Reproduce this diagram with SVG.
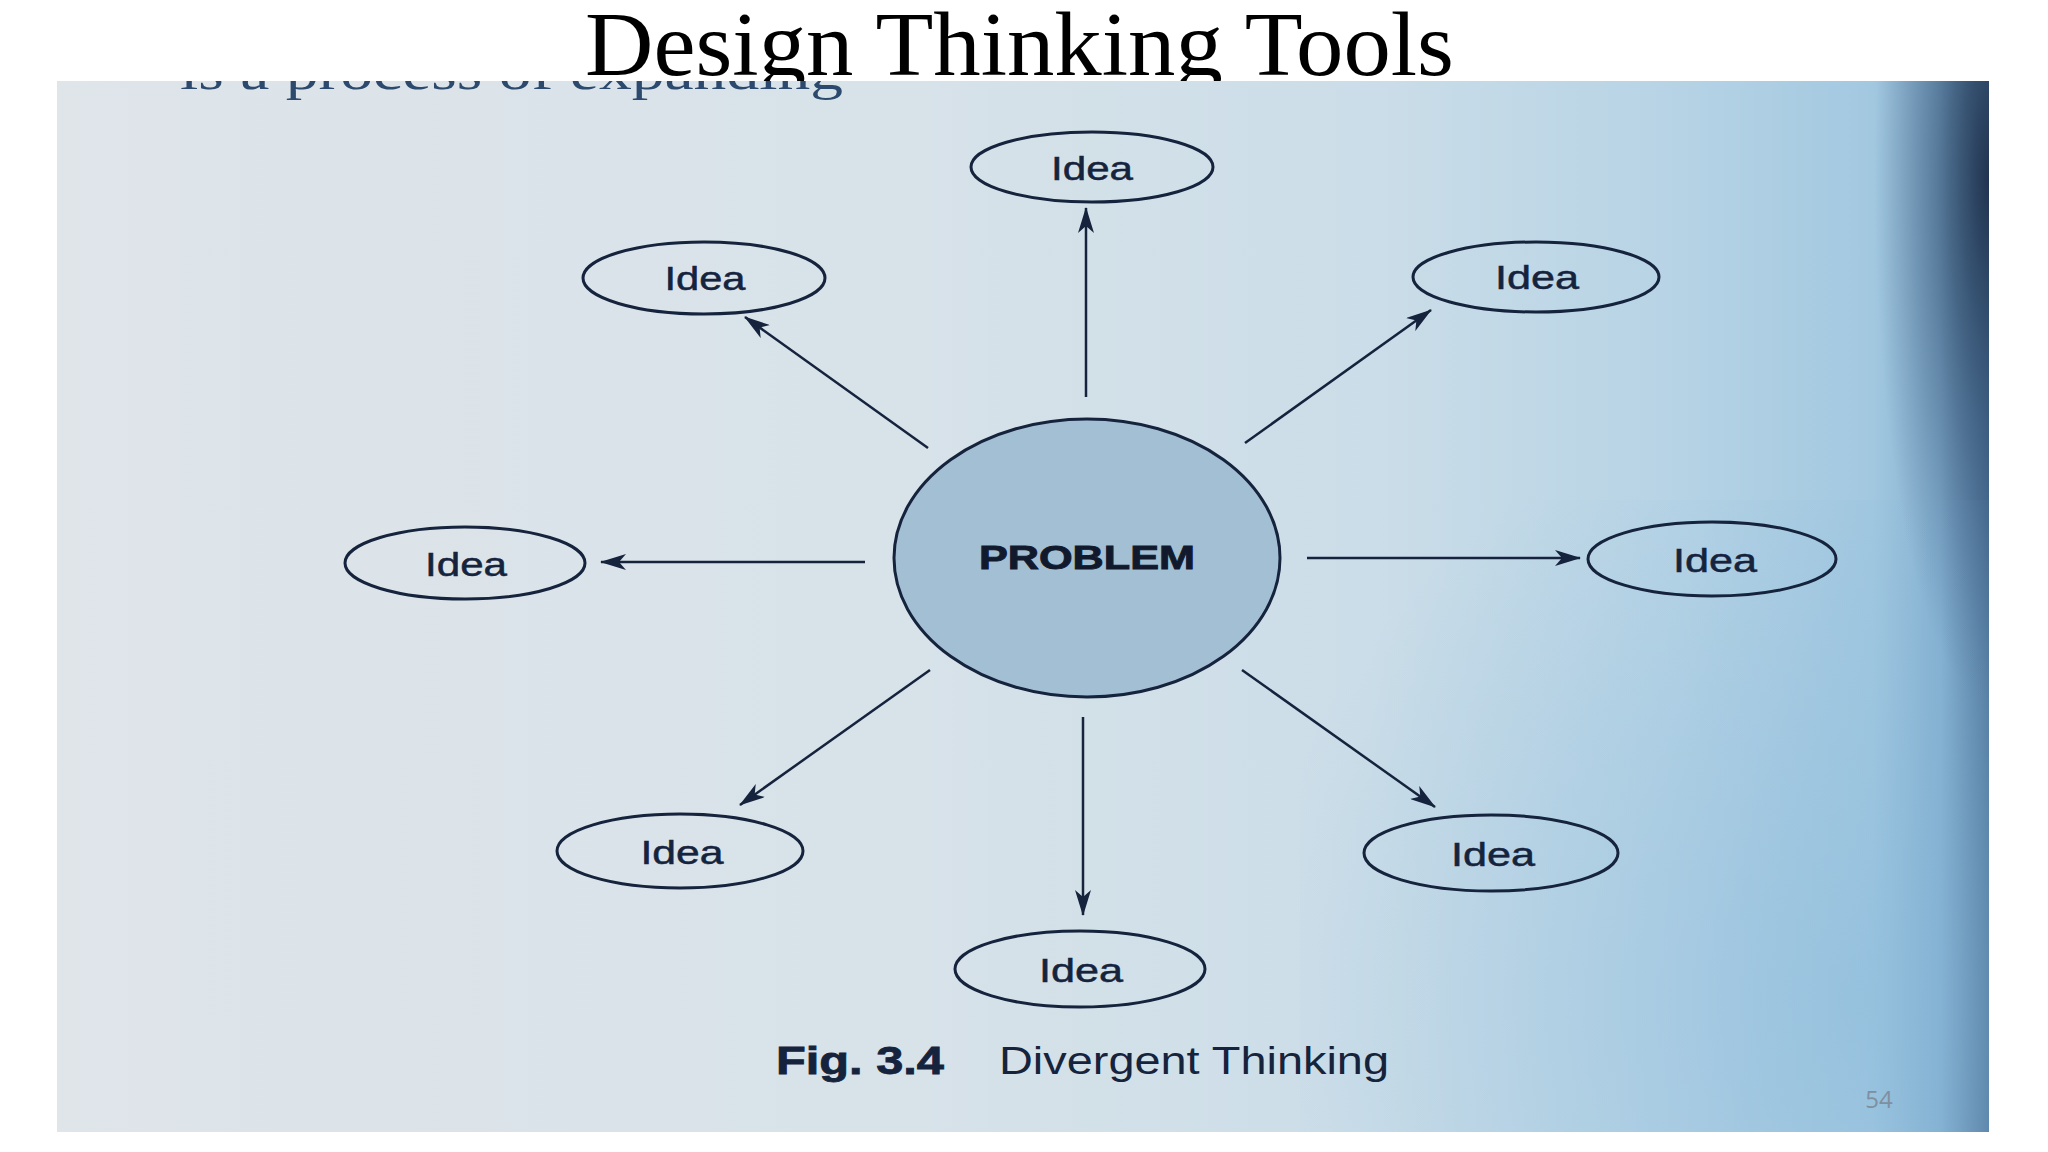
<svg xmlns="http://www.w3.org/2000/svg" width="2048" height="1152" viewBox="0 0 2048 1152">
  <defs>
    <linearGradient id="paper" x1="0" y1="0" x2="1" y2="0">
      <stop offset="0" stop-color="#dfe5e9"/>
      <stop offset="0.45" stop-color="#d7e2e9"/>
      <stop offset="0.68" stop-color="#cbdde8"/>
      <stop offset="0.84" stop-color="#b6d3e5"/>
      <stop offset="0.94" stop-color="#a2c8e0"/>
      <stop offset="0.975" stop-color="#84afcf"/>
      <stop offset="1" stop-color="#4d7398"/>
    </linearGradient>
    <radialGradient id="corner" gradientUnits="userSpaceOnUse" cx="1989" cy="180" r="520" gradientTransform="translate(1989 180) scale(0.22 1) translate(-1989 -180)">
      <stop offset="0" stop-color="#1c2d47" stop-opacity="0.9"/>
      <stop offset="0.5" stop-color="#2a4566" stop-opacity="0.45"/>
      <stop offset="1" stop-color="#3a5a80" stop-opacity="0"/>
    </radialGradient>
    <radialGradient id="lowblue" gradientUnits="userSpaceOnUse" cx="1850" cy="1000" r="600">
      <stop offset="0" stop-color="#86b8db" stop-opacity="0.45"/>
      <stop offset="1" stop-color="#86b8db" stop-opacity="0"/>
    </radialGradient>
    <clipPath id="photoClip">
      <rect x="57" y="81" width="1932" height="1051"/>
    </clipPath>
    <marker id="arrow" viewBox="0 0 26 16" refX="25" refY="8" markerWidth="26" markerHeight="16" markerUnits="userSpaceOnUse" orient="auto">
      <path d="M26,8 L0,0 L7,8 L0,16 Z" fill="#15233d"/>
    </marker>
    <style>
      .ink { stroke: #15233d; stroke-width: 3; fill: none; }
      .conn { stroke: #15233d; stroke-width: 2.5; fill: none; marker-end: url(#arrow); }
      .idea { font-family: "Liberation Sans", Arial, sans-serif; font-size: 33px; fill: #15233d; stroke: #15233d; stroke-width: 0.5; text-anchor: middle; }
      .prob { font-family: "Liberation Sans", Arial, sans-serif; font-weight: bold; font-size: 33px; fill: #111a2c; stroke: #111a2c; stroke-width: 0.9; text-anchor: middle; }
    </style>
  </defs>

  <rect x="0" y="0" width="2048" height="1152" fill="#ffffff"/>

  <text id="title" x="1019.5" y="75" font-family="'Liberation Serif', 'Times New Roman', serif" font-size="90" fill="#000000" text-anchor="middle" textLength="869" lengthAdjust="spacingAndGlyphs">Design Thinking Tools</text>

  <g id="photo">
    <rect x="57" y="81" width="1932" height="1051" fill="url(#paper)"/>
    <rect x="1300" y="500" width="689" height="632" fill="url(#lowblue)"/>
    <rect x="1800" y="81" width="189" height="1051" fill="url(#corner)"/>
    <g clip-path="url(#photoClip)">
      <text x="180" y="89" font-family="'Liberation Serif', 'Times New Roman', serif" font-size="50" fill="#2b4a6e" textLength="663" lengthAdjust="spacingAndGlyphs">is a process of expanding</text>
    </g>
  </g>

  <g id="connectors">
    <line class="conn" x1="1086" y1="397" x2="1086" y2="208"/>
    <line class="conn" x1="928" y1="448" x2="745" y2="317"/>
    <line class="conn" x1="1245" y1="443" x2="1431" y2="310"/>
    <line class="conn" x1="865" y1="562" x2="601" y2="562"/>
    <line class="conn" x1="1307" y1="558" x2="1580" y2="558"/>
    <line class="conn" x1="930" y1="670" x2="740" y2="805"/>
    <line class="conn" x1="1083" y1="717" x2="1083" y2="915"/>
    <line class="conn" x1="1242" y1="670" x2="1435" y2="807"/>
  </g>

  <g id="problem">
    <ellipse cx="1087" cy="558" rx="193" ry="139" fill="#a3bfd3" stroke="#15233d" stroke-width="3"/>
    <text class="prob" x="1087" y="569" textLength="216" lengthAdjust="spacingAndGlyphs">PROBLEM</text>
  </g>

  <g id="idea-top">
    <ellipse class="ink" cx="1092" cy="167" rx="121" ry="35"/>
    <text class="idea" x="1092" y="180" textLength="82" lengthAdjust="spacingAndGlyphs">Idea</text>
  </g>
  <g id="idea-upper-left">
    <ellipse class="ink" cx="704" cy="278" rx="121" ry="36"/>
    <text class="idea" x="705" y="290" textLength="81" lengthAdjust="spacingAndGlyphs">Idea</text>
  </g>
  <g id="idea-upper-right">
    <ellipse class="ink" cx="1536" cy="277" rx="123" ry="35"/>
    <text class="idea" x="1537" y="289" textLength="84" lengthAdjust="spacingAndGlyphs">Idea</text>
  </g>
  <g id="idea-left">
    <ellipse class="ink" cx="465" cy="563" rx="120" ry="36"/>
    <text class="idea" x="466" y="576" textLength="82" lengthAdjust="spacingAndGlyphs">Idea</text>
  </g>
  <g id="idea-right">
    <ellipse class="ink" cx="1712" cy="559" rx="124" ry="37"/>
    <text class="idea" x="1715" y="572" textLength="84" lengthAdjust="spacingAndGlyphs">Idea</text>
  </g>
  <g id="idea-lower-left">
    <ellipse class="ink" cx="680" cy="851" rx="123" ry="37"/>
    <text class="idea" x="682" y="864" textLength="83" lengthAdjust="spacingAndGlyphs">Idea</text>
  </g>
  <g id="idea-bottom">
    <ellipse class="ink" cx="1080" cy="969" rx="125" ry="38"/>
    <text class="idea" x="1081" y="982" textLength="84" lengthAdjust="spacingAndGlyphs">Idea</text>
  </g>
  <g id="idea-lower-right">
    <ellipse class="ink" cx="1491" cy="853" rx="127" ry="38"/>
    <text class="idea" x="1493" y="866" textLength="84" lengthAdjust="spacingAndGlyphs">Idea</text>
  </g>

  <g id="caption">
    <text x="776" y="1074" font-family="'Liberation Sans', Arial, sans-serif" font-weight="bold" font-size="39" fill="#15233d" stroke="#15233d" stroke-width="0.8" textLength="168" lengthAdjust="spacingAndGlyphs">Fig.  3.4</text>
    <text x="999" y="1074" font-family="'Liberation Sans', Arial, sans-serif" font-size="39" fill="#15233d" textLength="390" lengthAdjust="spacingAndGlyphs">Divergent  Thinking</text>
  </g>

  <text id="slide-number" x="1879" y="1108" font-family="'Open Sans', 'Liberation Sans', sans-serif" font-size="24" fill="#7f8fa0" text-anchor="middle">54</text>
</svg>
